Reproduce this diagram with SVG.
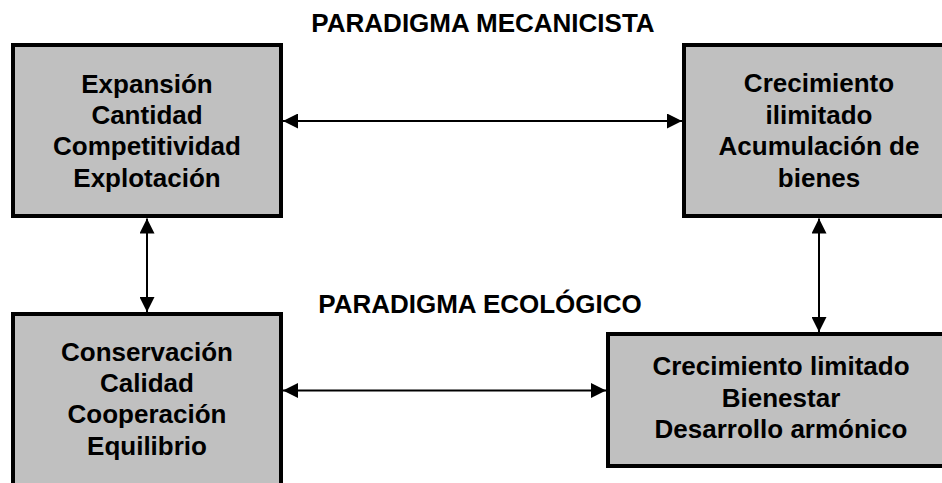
<svg xmlns="http://www.w3.org/2000/svg" width="942" height="483" viewBox="0 0 942 483">
  <style>
    .box { fill: #c0c0c0; stroke: #000; stroke-width: 4; }
    .lbl { font-family: "Liberation Sans", Arial, sans-serif; font-weight: bold; font-size: 26px; fill: #000; text-anchor: middle; }
    .conn { stroke: #000; stroke-width: 2; fill: none; marker-start: url(#head); marker-end: url(#head); }
  </style>
  <defs>
    <marker id="head" markerUnits="userSpaceOnUse" markerWidth="15" markerHeight="15" refX="15" refY="7.5" orient="auto-start-reverse">
      <path d="M0,0 L15,7.5 L0,15 Z" fill="#000"/>
    </marker>
  </defs>
  <rect width="942" height="483" fill="#fff"/>

  <text class="lbl" x="483" y="32">PARADIGMA MECANICISTA</text>
  <text class="lbl" x="480" y="313">PARADIGMA ECOLÓGICO</text>

  <g id="connectors">
    <line class="conn" x1="283" y1="121" x2="682" y2="121"/>
    <line class="conn" x1="147" y1="218.5" x2="147" y2="312"/>
    <line class="conn" x1="819" y1="218.5" x2="819" y2="332"/>
    <line class="conn" x1="283" y1="390.5" x2="606" y2="390.5"/>
  </g>

  <g id="mecanicista-valores">
    <rect class="box" x="13" y="45" width="268" height="171"/>
    <text class="lbl" x="147" y="93">Expansión</text>
    <text class="lbl" x="147" y="124">Cantidad</text>
    <text class="lbl" x="147" y="155">Competitividad</text>
    <text class="lbl" x="147" y="187">Explotación</text>
  </g>

  <g id="mecanicista-metas">
    <rect class="box" x="684" y="45" width="272" height="171"/>
    <text class="lbl" x="819" y="92">Crecimiento</text>
    <text class="lbl" x="819" y="124">ilimitado</text>
    <text class="lbl" x="819" y="155">Acumulación de</text>
    <text class="lbl" x="819" y="187">bienes</text>
  </g>

  <g id="ecologico-valores">
    <rect class="box" x="13" y="314" width="268" height="172"/>
    <text class="lbl" x="147" y="361">Conservación</text>
    <text class="lbl" x="147" y="392">Calidad</text>
    <text class="lbl" x="147" y="423">Cooperación</text>
    <text class="lbl" x="147" y="455">Equilibrio</text>
  </g>

  <g id="ecologico-metas">
    <rect class="box" x="608" y="334" width="348" height="132"/>
    <text class="lbl" x="781" y="375">Crecimiento limitado</text>
    <text class="lbl" x="781" y="407">Bienestar</text>
    <text class="lbl" x="781" y="438">Desarrollo armónico</text>
  </g>
</svg>
